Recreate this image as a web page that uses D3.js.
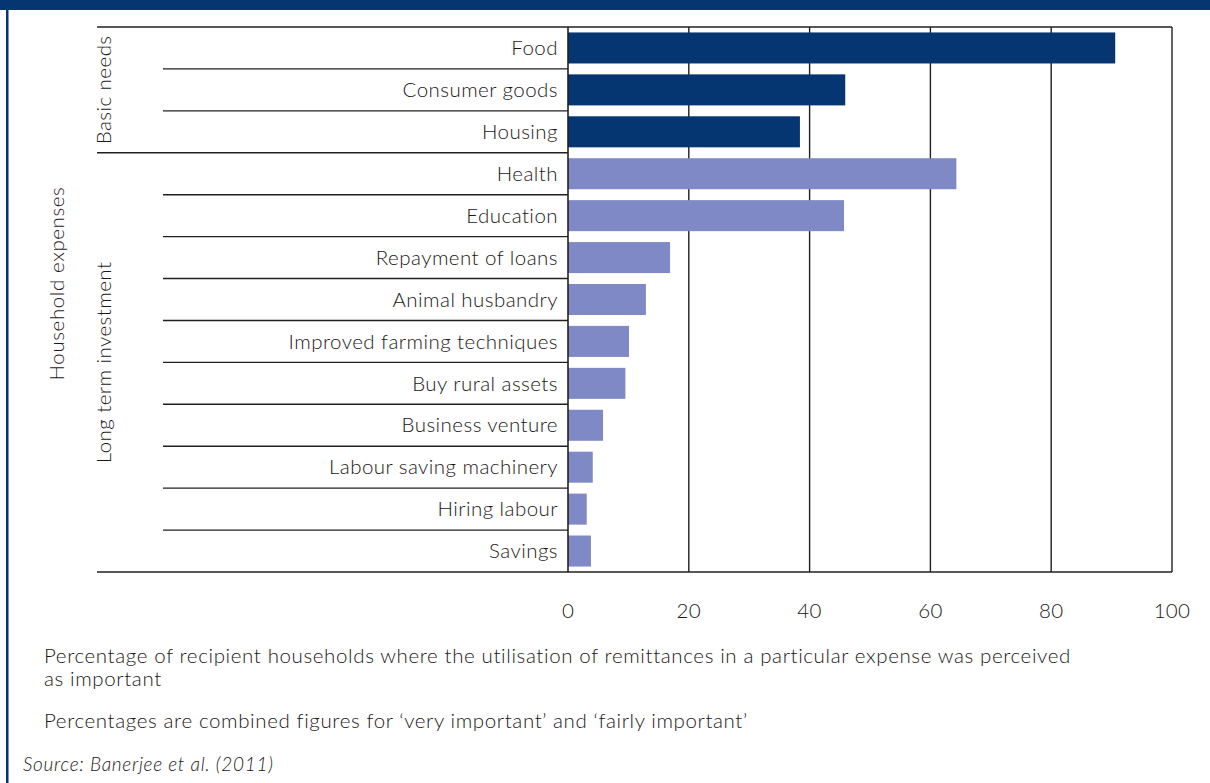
<!DOCTYPE html>
<html>
<head>
<meta charset="utf-8">
<script src="https://cdn.jsdelivr.net/npm/d3@7"></script>
<style>
    body { margin: 0; background: #fff; }
    text { font-family: Lato, 'Open Sans', sans-serif; font-weight: 300; fill: #1a1718; }
</style>
</head>
<body>
<div id="chart"></div>
<script>
const categories = ['Food', 'Consumer goods', 'Housing', 'Health', 'Education', 'Repayment of loans',
    'Animal husbandry', 'Improved farming techniques', 'Buy rural assets', 'Business venture',
    'Labour saving machinery', 'Hiring labour', 'Savings'];
const values = [90.6, 45.9, 38.4, 64.3, 45.7, 16.9, 12.9, 10.1, 9.5, 5.8, 4.1, 3.1, 3.8];
const groups = [
    { name: 'Basic needs', from: 0, to: 2 },
    { name: 'Long term investment', from: 3, to: 12 }
];
const ticks = [0, 20, 40, 60, 80, 100];
const notes = [
    'Percentage of recipient households where the utilisation of remittances in a particular expense was perceived',
    'as important'
];
const note2 = 'Percentages are combined figures for \u2018very important\u2019 and \u2018fairly important\u2019';
const source = 'Source: Banerjee et al. (2011)';

const width = 1210;
const height = 783;
const navy = '#063672';
const lilac = '#7f89c5';

const svg = d3.select('#chart')
    .append('svg')
    .attr('width', width)
    .attr('height', height);

// frame: top band and left rule
svg.append('rect').attr('x', 0).attr('y', 0).attr('width', width).attr('height', 10).attr('fill', navy);
svg.append('rect').attr('x', 6).attr('y', 10).attr('width', 2.5).attr('height', height - 10).attr('fill', navy);

const x = d3.scaleLinear().domain([0, 100]).range([568, 1172]);
const y = d3.scaleBand().domain(categories).range([27, 572]).paddingInner(0.26).paddingOuter(0.13);
const rowH = (572 - 27) / categories.length;
const rowTop = i => 27 + i * rowH;

// gridlines
svg.append('g').selectAll('line').data(ticks.slice(1)).join('line')
    .attr('x1', d => x(d)).attr('x2', d => x(d))
    .attr('y1', 27).attr('y2', 572)
    .attr('stroke', '#231f20').attr('stroke-width', 1.4);

// bars
svg.append('g').selectAll('rect').data(categories).join('rect')
    .attr('x', x(0))
    .attr('y', d => y(d))
    .attr('width', (d, i) => x(values[i]) - x(0))
    .attr('height', y.bandwidth())
    .attr('fill', (d, i) => i <= groups[0].to ? navy : lilac);

// row separators
const seps = d3.range(categories.length + 1).map(i => {
    const isGroupEdge = i === 0 || i === categories.length || groups.some(g => g.from === i);
    return { y: rowTop(i), x1: isGroupEdge ? 97 : 163, x2: (i === 0 || i === categories.length) ? 1172 : 568 };
});
svg.append('g').selectAll('line').data(seps).join('line')
    .attr('x1', d => d.x1).attr('x2', d => d.x2)
    .attr('y1', d => d.y).attr('y2', d => d.y)
    .attr('stroke', '#231f20').attr('stroke-width', 1.4);

// y axis line
svg.append('line').attr('x1', x(0)).attr('x2', x(0)).attr('y1', 27).attr('y2', 572)
    .attr('stroke', '#231f20').attr('stroke-width', 1.6);

// category labels
svg.append('g').selectAll('text').data(categories).join('text')
    .attr('x', 558)
    .attr('y', d => y(d) + y.bandwidth() / 2)
    .attr('dy', '0.35em')
    .attr('text-anchor', 'end')
    .attr('font-size', 20.5)
    .attr('letter-spacing', 0.45)
    .text(d => d);

// x tick labels
svg.append('g').selectAll('text').data(ticks).join('text')
    .attr('x', d => x(d))
    .attr('y', 618)
    .attr('text-anchor', 'middle')
    .attr('font-size', 20.5)
    .attr('letter-spacing', 0.35)
    .text(d => d);

// group labels
groups.forEach(g => {
    const cy = (rowTop(g.from) + rowTop(g.to + 1)) / 2;
    svg.append('text')
        .attr('transform', `translate(111,${cy}) rotate(-90)`)
        .attr('text-anchor', 'middle')
        .attr('font-size', 20.5)
        .attr('letter-spacing', 0.45)
        .text(g.name);
});
svg.append('text')
    .attr('transform', `translate(64,${(27 + 572) / 2 - 16}) rotate(-90)`)
    .attr('text-anchor', 'middle')
    .attr('font-size', 20.5)
    .attr('letter-spacing', 0.6)
    .text('Household expenses');

// notes
svg.append('g').selectAll('text').data(notes).join('text')
    .attr('x', 44)
    .attr('y', (d, i) => 663 + i * 23)
    .attr('font-size', 20.5)
    .attr('letter-spacing', 0.62)
    .text(d => d);
svg.append('text').attr('x', 44).attr('y', 728).attr('font-size', 20.5)
    .attr('letter-spacing', 0.62).text(note2);
svg.append('text').attr('x', 23).attr('y', 771).attr('font-size', 19)
    .attr('letter-spacing', 0.7)
    .attr('font-style', 'italic').text(source);
</script>
</body>
</html>
